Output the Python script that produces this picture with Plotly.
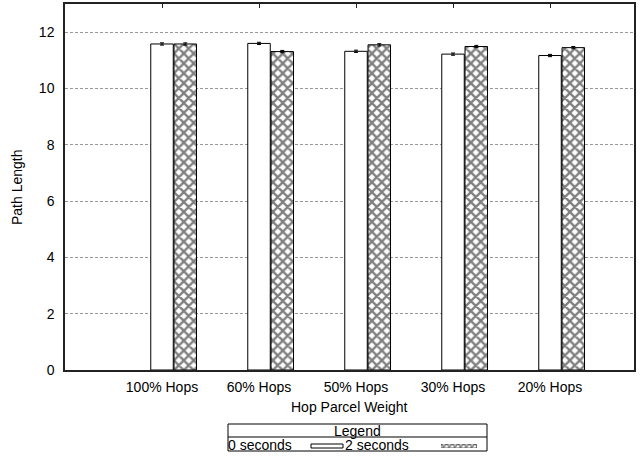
import plotly.graph_objects as go

# Data
categories = ["100% Hops", "60% Hops", "50% Hops", "30% Hops", "20% Hops"]
series_names = ["0 seconds", "2 seconds"]
vals_0s = [11.58, 11.60, 11.32, 11.22, 11.17]
vals_2s = [11.58, 11.31, 11.55, 11.49, 11.45]
err_0s = [0.04, 0.04, 0.04, 0.04, 0.04]
err_2s = [0.04, 0.04, 0.04, 0.04, 0.04]
y_ticks = [0, 2, 4, 6, 8, 10, 12]

W, H = 640, 458
ML, MR, MT, MB = 65, 6, 4, 5
PW, PH = W - ML - MR, H - MT - MB


def fx(px):
    return (px - ML) / PW


def fy(py):
    return (H - MB - py) / PH


FONT = "Liberation Sans, Arial, sans-serif"
FS = 14
pos = list(range(1, len(categories) + 1))
bw = 0.232
off = 0.24

pattern = dict(shape="x", size=7, solidity=0.55, fgcolor="black", bgcolor="white")

fig = go.Figure()
fig.add_trace(go.Bar(
    x=pos, y=vals_0s, width=bw, name=series_names[0],
    marker=dict(color="white", line=dict(color="black", width=1)),
    error_y=dict(type="data", array=err_0s, color="black", thickness=1, width=2),
    showlegend=False,
))
fig.add_trace(go.Bar(
    x=[p + off for p in pos], y=vals_2s, width=bw, name=series_names[1],
    marker=dict(color="white", line=dict(color="black", width=1), pattern=pattern),
    error_y=dict(type="data", array=err_2s, color="black", thickness=1, width=2),
    showlegend=False,
))
# top-edge tick marks
fig.add_trace(go.Scatter(x=[pos[0]], y=[0], xaxis="x2", yaxis="y", mode="markers",
                         marker=dict(opacity=0), hoverinfo="skip", showlegend=False))
# legend key for the patterned series
fig.add_trace(go.Bar(x=[0], y=[1], width=1, xaxis="x3", yaxis="y3",
                     marker=dict(color="white", line=dict(color="black", width=0.5),
                                 pattern=dict(shape="x", size=4, solidity=0.6,
                                              fgcolor="black", bgcolor="white")),
                     hoverinfo="skip", showlegend=False))

x_range = [0, (634 - 162) / 97 + 1]
y_bottom = fy(370)

fig.update_layout(
    width=W, height=H, autosize=False,
    margin=dict(l=ML, r=MR, t=MT, b=MB, pad=0, autoexpand=False),
    paper_bgcolor="white", plot_bgcolor="white",
    barmode="overlay",
    font=dict(family=FONT, size=FS, color="black"),
    xaxis=dict(
        range=x_range, tickvals=pos, ticktext=categories, ticks="",
        showgrid=False, zeroline=False, showline=True, mirror=True,
        linecolor="#222", linewidth=1.5, domain=[0, 1], anchor="y",
        tickfont=dict(size=FS), ticklabelstandoff=3, automargin=False,
    ),
    xaxis2=dict(
        range=x_range, tickvals=pos, overlaying="x", anchor="y", side="top",
        ticks="inside", ticklen=4, tickcolor="#222", showticklabels=False,
        showgrid=False, zeroline=False, showline=False, automargin=False,
    ),
    yaxis=dict(
        range=[0, 13], tickvals=y_ticks, domain=[y_bottom, 1],
        showgrid=True, gridcolor="#999", griddash="3px,2px", gridwidth=1,
        zeroline=False, showline=True, mirror=True, linecolor="#222", linewidth=1.5,
        ticks="", ticklabelstandoff=6, tickfont=dict(size=FS), automargin=False,
    ),
    xaxis3=dict(domain=[fx(441), fx(477)], range=[-0.5, 0.5], visible=False,
                anchor="y3", automargin=False),
    yaxis3=dict(domain=[fy(448), fy(444)], range=[0, 1], visible=False,
                anchor="x3", automargin=False),
)

# axis titles
fig.add_annotation(text="Path Length", xref="paper", yref="paper",
                   x=fx(17), y=fy(187), textangle=-90, showarrow=False,
                   font=dict(size=FS), xanchor="center", yanchor="middle")
fig.add_annotation(text="Hop Parcel Weight", xref="paper", yref="paper",
                   x=fx(349), y=fy(407), showarrow=False,
                   font=dict(size=FS), xanchor="center", yanchor="middle")

# legend box
fig.add_shape(type="rect", xref="paper", yref="paper",
              x0=fx(228), x1=fx(487), y0=fy(451), y1=fy(424),
              line=dict(color="black", width=1), fillcolor="rgba(0,0,0,0)")
fig.add_shape(type="line", xref="paper", yref="paper",
              x0=fx(228), x1=fx(487), y0=fy(437), y1=fy(437),
              line=dict(color="black", width=1))
fig.add_annotation(text="Legend", xref="paper", yref="paper",
                   x=fx(357), y=fy(430.5), showarrow=False, font=dict(size=FS),
                   xanchor="center", yanchor="middle")
fig.add_annotation(text=series_names[0], xref="paper", yref="paper",
                   x=fx(228), y=fy(444.5), showarrow=False, font=dict(size=FS),
                   xanchor="left", yanchor="middle", xshift=-2)
fig.add_shape(type="rect", xref="paper", yref="paper",
              x0=fx(311), x1=fx(343), y0=fy(448), y1=fy(444),
              line=dict(color="black", width=1), fillcolor="white")
fig.add_annotation(text=series_names[1], xref="paper", yref="paper",
                   x=fx(345), y=fy(444.5), showarrow=False, font=dict(size=FS),
                   xanchor="left", yanchor="middle", xshift=-2)

fig.write_html("out.html")
